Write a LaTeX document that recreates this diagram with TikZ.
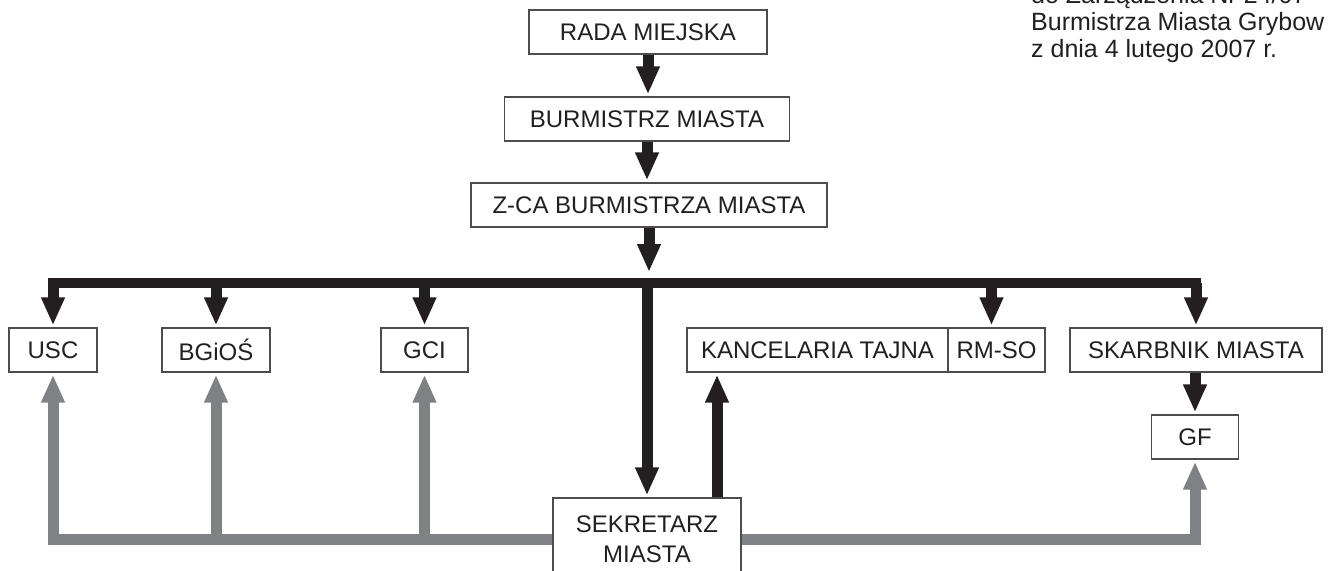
\documentclass[tikz,border=0pt]{standalone}
\usepackage{fontspec}
\setmainfont{Liberation Sans}
\usetikzlibrary{arrows.meta}
\definecolor{ink}{HTML}{231F20}
\definecolor{grayline}{HTML}{808184}
\definecolor{boxline}{HTML}{4D4D4F}
\begin{document}
\begin{tikzpicture}[x=1pt,y=-1pt,
  box/.style={draw=boxline, line width=1.3pt, fill=white, inner sep=0pt,
    font=\fontsize{24}{30}\selectfont, text=ink, minimum height=44pt},
  blk/.style={draw=ink, line width=11pt, shorten >=2pt, -{Triangle[width=22pt,length=28pt]}},
  gry/.style={draw=grayline, line width=11pt, shorten >=2pt, -{Triangle[width=22pt,length=28pt]}},
  bar/.style={draw=ink, line width=10pt},
  hdr/.style={anchor=base west, inner sep=0pt, text=ink, font=\fontsize{25}{27}\selectfont}
  ]
\clip (0,0) rectangle (1329,570);
% header
\node[hdr] (t1) at (1031,3) {do Zarządzenia Nr 24/07};
\node[hdr] (t2) at (1031,30) {Burmistrza Miasta Grybow};
\node[hdr] (t3) at (1031,57) {z dnia 4 lutego 2007 r.};
% boxes
\node[box, minimum width=238pt] (rada) at (648,32) {RADA MIEJSKA};
\node[box, minimum width=285pt] (burm) at (647,119) {BURMISTRZ MIASTA};
\node[box, minimum width=356pt] (zca) at (649,205) {Z-CA BURMISTRZA MIASTA};
\node[box, minimum width=88pt] (usc) at (53,350) {USC};
\node[box, minimum width=108pt] (bgios) at (216,350) {BGiOŚ};
\node[box, minimum width=87pt] (gci) at (424.5,350) {GCI};
\node[box, minimum width=261pt] (kanc) at (817.5,350) {KANCELARIA TAJNA};
\node[box, minimum width=97pt] (rmso) at (996.5,350) {RM-SO};
\node[box, minimum width=252pt] (skarb) at (1196,350) {SKARBNIK MIASTA};
\node[box, minimum width=87pt] (gf) at (1195,437) {GF};
\node[box, minimum width=188pt, minimum height=82pt, align=center] (sek) at (647,539) {SEKRETARZ\\MIASTA};
% bar coordinates
\coordinate (barL) at (48,283);
\coordinate (barR) at (1201,283);
% gray connectors
\draw[gry] (sek.west) -| (usc.south);
\draw[gry] (bgios.south |- sek.west) -- (bgios.south);
\draw[gry] (gci.south |- sek.west) -- (gci.south);
\draw[gry] (sek.east) -| (gf.south);
% black connectors
\draw[blk] (rada.south) -- (rada.south |- burm.north);
\draw[blk] (burm.south) -- (burm.south |- zca.north);
\draw[blk, shorten >=11pt] (zca.south) -- (zca.south |- barL);
\draw[bar] (barL) -- (barR);
\draw[blk] (usc.north |- barL) -- (usc.north);
\draw[blk] (bgios.north |- barL) -- (bgios.north);
\draw[blk] (gci.north |- barL) -- (gci.north);
\draw[blk] (sek.north |- barL) -- (sek.north);
\draw[blk] ([xshift=-5pt]rmso.north |- barL) -- ([xshift=-5pt]rmso.north);
\draw[blk] (skarb.north |- barL) -- (skarb.north);
\draw[blk] (gf.north |- skarb.south) -- (gf.north);
\draw[blk] ([xshift=70pt]sek.north) -- ([xshift=70pt]sek.north |- kanc.south);
\end{tikzpicture}
\end{document}
